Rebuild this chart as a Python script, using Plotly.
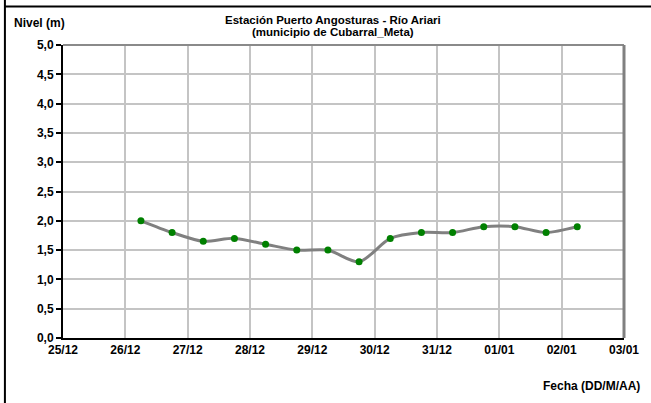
import plotly.graph_objects as go

# Lecturas de nivel (06:00 y 18:00)
fechas = [
    "2011-12-26 06:00", "2011-12-26 18:00",
    "2011-12-27 06:00", "2011-12-27 18:00",
    "2011-12-28 06:00", "2011-12-28 18:00",
    "2011-12-29 06:00", "2011-12-29 18:00",
    "2011-12-30 06:00", "2011-12-30 18:00",
    "2011-12-31 06:00", "2011-12-31 18:00",
    "2012-01-01 06:00", "2012-01-01 18:00",
    "2012-01-02 06:00",
]
niveles = [2.0, 1.8, 1.65, 1.7, 1.6, 1.5, 1.5, 1.3, 1.7, 1.8, 1.8, 1.9, 1.9, 1.8, 1.9]

dias = ["2011-12-25", "2011-12-26", "2011-12-27", "2011-12-28", "2011-12-29",
        "2011-12-30", "2011-12-31", "2012-01-01", "2012-01-02", "2012-01-03"]
etiquetas_dias = ["25/12", "26/12", "27/12", "28/12", "29/12",
                  "30/12", "31/12", "01/01", "02/01", "03/01"]
valores_y = [0.0, 0.5, 1.0, 1.5, 2.0, 2.5, 3.0, 3.5, 4.0, 4.5, 5.0]
etiquetas_y = ["0,0", "0,5", "1,0", "1,5", "2,0", "2,5", "3,0", "3,5", "4,0", "4,5", "5,0"]

titulo_1 = "Estación Puerto Angosturas - Río Ariari"
titulo_2 = "(municipio de Cubarral_Meta)"
etiqueta_y = "Nivel (m)"
etiqueta_x = "Fecha (DD/M/AA)"

W, H = 651, 403
L, R, T, B = 63, 628, 45, 338  # plot area in pixels


def px_x(x):
    return (x - L) / (R - L)


def px_y(y):
    return (B - y) / (B - T)


def negrita(s):
    return "<b>" + s + "</b>"


fuente = dict(family="Liberation Sans, Arial, sans-serif", color="black", weight="bold")

fig = go.Figure(
    go.Scatter(
        x=fechas,
        y=niveles,
        mode="lines+markers",
        line=dict(color="#808080", width=3, shape="spline", smoothing=0.8),
        marker=dict(color="#008000", size=7),
        hoverinfo="x+y",
    )
)

fig.update_layout(
    width=W,
    height=H,
    margin=dict(l=L, r=W - R, t=T, b=H - B),
    paper_bgcolor="white",
    plot_bgcolor="white",
    showlegend=False,
    font=dict(**fuente, size=12),
)

fig.update_xaxes(
    type="date",
    range=[dias[0], dias[-1]],
    tickvals=dias,
    ticktext=[negrita(t) for t in etiquetas_dias],
    showgrid=True,
    gridcolor="#c4c4c4",
    gridwidth=2,
    showline=True,
    linecolor="black",
    linewidth=2,
    ticks="",
    zeroline=False,
    tickfont=dict(**fuente, size=12),
)

fig.update_yaxes(
    range=[valores_y[0], valores_y[-1]],
    tickvals=valores_y,
    ticktext=[negrita(t) for t in etiquetas_y],
    showgrid=True,
    gridcolor="#c4c4c4",
    gridwidth=2,
    showline=True,
    linecolor="black",
    linewidth=2,
    ticks="outside",
    ticklen=5,
    tickwidth=2,
    tickcolor="black",
    zeroline=False,
    tickfont=dict(**fuente, size=12),
)

# Plot frame (top and right) and outer box
fig.add_shape(type="line", xref="paper", yref="paper", x0=0, x1=1, y0=1, y1=1,
              line=dict(color="#8a8a8a", width=2))
fig.add_shape(type="line", xref="paper", yref="paper", x0=1, x1=1, y0=0, y1=1,
              line=dict(color="#808080", width=3))
fig.add_shape(type="line", xref="paper", yref="paper",
              x0=px_x(4.5), x1=px_x(4.5), y0=px_y(410), y1=px_y(-2),
              line=dict(color="black", width=2))
fig.add_shape(type="line", xref="paper", yref="paper",
              x0=px_x(4.5), x1=px_x(660), y0=px_y(6.5), y1=px_y(6.5),
              line=dict(color="black", width=2))

# Texts
fig.add_annotation(text=negrita(titulo_1), xref="paper", yref="paper", x=px_x(335), y=px_y(20),
                   xanchor="center", yanchor="middle", showarrow=False,
                   font=dict(**fuente, size=11.5))
fig.add_annotation(text=negrita(titulo_2), xref="paper", yref="paper", x=px_x(335), y=px_y(32.5),
                   xanchor="center", yanchor="middle", showarrow=False,
                   font=dict(**fuente, size=11.5))
fig.add_annotation(text=negrita(etiqueta_y), xref="paper", yref="paper", x=px_x(12), y=px_y(22.5),
                   xanchor="left", yanchor="middle", showarrow=False,
                   font=dict(**fuente, size=12))
fig.add_annotation(text=negrita(etiqueta_x), xref="paper", yref="paper", x=px_x(646), y=px_y(386),
                   xanchor="right", yanchor="middle", showarrow=False,
                   font=dict(**fuente, size=12))

fig.write_html("out.html")
